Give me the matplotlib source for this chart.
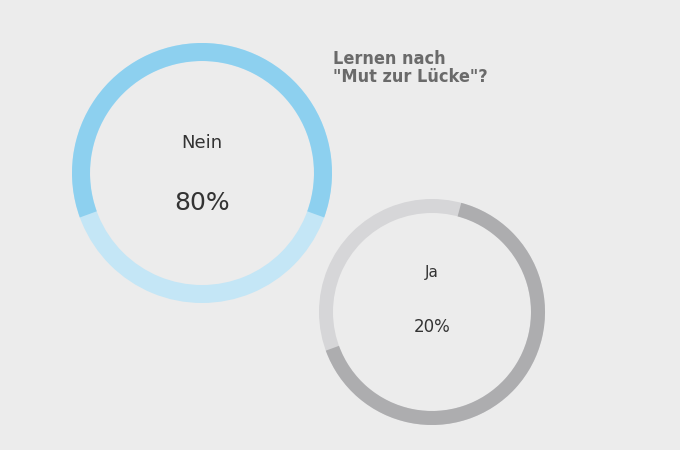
import matplotlib
matplotlib.use("Agg")
import matplotlib.pyplot as plt
from matplotlib.patches import Wedge

# data
answers = ["Nein", "Ja"]
shares = [80, 20]
title = "Lernen nach\n\"Mut zur Lücke\"?"

# ring styling (pixel coordinates, y down)
rings = [
    dict(c=(202, 173), r=130, w=18, dark="#8dd0ef", light="#c4e6f6", a0=160, a1=380, fs_l=13, fs_v=18),
    dict(c=(432, 312), r=113, w=14, dark="#adadaf", light="#d6d6d8", a0=-75, a1=160, fs_l=11, fs_v=12),
]

fig = plt.figure(figsize=(6.8, 4.5), dpi=100)
fig.patch.set_facecolor("#ececec")
ax = fig.add_axes([0, 0, 1, 1])
ax.set_xlim(0, 680)
ax.set_ylim(450, 0)
ax.set_aspect("equal")
ax.axis("off")

for name, val, s in zip(answers, shares, rings):
    cx, cy = s["c"]
    ax.add_patch(Wedge((cx, cy), s["r"], 0, 360, width=s["w"], color=s["light"], lw=0))
    ax.add_patch(Wedge((cx, cy), s["r"], s["a0"], s["a1"], width=s["w"], color=s["dark"], lw=0))
    ax.text(cx, cy - 30 if val > 50 else cy - 40, name, ha="center", va="center",
            fontsize=s["fs_l"], color="#333333")
    ax.text(cx, cy + 30 if val > 50 else cy + 15, f"{val}%", ha="center", va="center",
            fontsize=s["fs_v"], color="#333333")

ax.text(333, 50, title, ha="left", va="top", fontsize=13, fontweight="bold",
        color="#6a6a6a", linespacing=1.0, fontstretch="condensed")

fig.savefig("out.png", dpi=100, facecolor=fig.get_facecolor())
